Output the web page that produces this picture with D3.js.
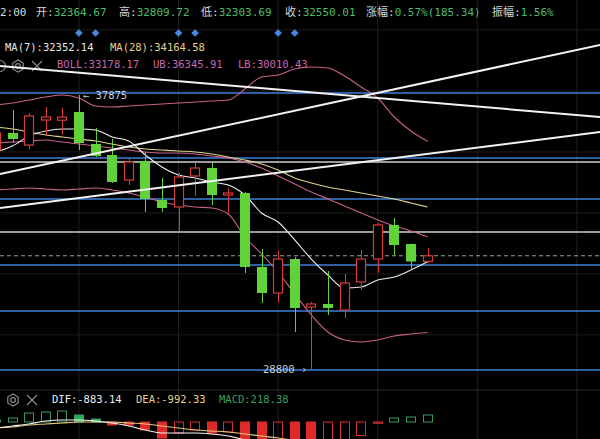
<!DOCTYPE html>
<html>
<head>
<meta charset="utf-8">
<script src="https://cdn.jsdelivr.net/npm/d3@7"></script>
<style>
  html, body { margin: 0; padding: 0; background: #000; overflow: hidden; }
  svg { display: block; }
  text { font-family: "DejaVu Sans Mono", "Noto Sans CJK SC", monospace; }
</style>
</head>
<body>
<svg id="chart" width="600" height="439"></svg>
<script>
// ---- candle data (index -1 is the partly hidden bar on the left edge) ----
const firstIndex = -1;
const opens  = [36053, 36616, 36219, 37047, 37040, 37312, 36252, 35888, 35060, 35689, 34397, 34166, 35192, 35457, 34563, 34629, 32178, 31317, 32443, 30854, 30953, 30754, 31682, 32443, 33570, 32940, 32364.67];
const highs  = [36700, 37378, 37279, 37478, 37445, 37875, 36782, 36418, 35789, 35987, 35126, 35292, 35623, 35623, 34795, 34662, 32775, 32708, 32510, 31019, 32046, 31947, 32742, 33636, 33801, 32950, 32809.72];
const lows   = [35950, 36285, 36087, 36550, 36560, 36053, 35822, 34961, 34894, 34000, 34000, 33371, 34530, 34232, 33967, 31980, 30986, 31019, 30026, 28800, 30589, 30489, 31417, 31980, 32576, 32079, 32303.69];
const closes = [36616, 36418, 37180, 37146, 37140, 36285, 35855, 34994, 35656, 34431, 34132, 35159, 35457, 34563, 34629, 32178, 31317, 32443, 30820, 30953, 30820, 31649, 32443, 33570, 32907, 32360, 32550.01];

// ---- indicator lines ----
const ma7     = [35987, 36186, 36517, 36683, 36749, 36749, 36716, 36484, 36352, 35888, 35490, 35225, 35126, 34994, 34894, 34563, 33967, 33669, 33073, 32443, 31913, 31483, 31516, 31748, 31847, 32079, 32352.14];
const ma28    = [36815, 36749, 36650, 36550, 36484, 36418, 36352, 36252, 36153, 36087, 36053, 36020, 35987, 35921, 35822, 35722, 35590, 35391, 35126, 34960, 34828, 34729, 34629, 34530, 34431, 34298, 34164.58];
const bollMid = [36285, 36318, 36352, 36385, 36318, 36252, 36186, 36120, 36053, 35987, 35954, 35954, 35921, 35855, 35789, 35656, 35457, 35192, 34927, 34662, 34431, 34199, 33967, 33735, 33536, 33371, 33178.17];
const bollUp  = [37544, 37610, 37709, 37809, 37875, 37776, 37511, 37478, 37511, 37544, 37577, 37610, 37643, 37676, 37709, 38074, 38471, 38537, 38736, 38802, 38769, 38504, 38140, 37776, 37146, 36683, 36345.91];
const bollLow = [34729, 34762, 34795, 34762, 34729, 34762, 34795, 34729, 34629, 34497, 34331, 34232, 34166, 34132, 33934, 33172, 32609, 32013, 31284, 30589, 30026, 29761, 29694, 29761, 29893, 29959, 30010.43];

// ---- MACD panel ----
const macdHist = [60, 125, 280, 312, 343, 218, 94, -94, -100, -250, -500, -343, -250, -343, -312, -600, -700, -650, -750, -850, -800, -700, -420, -40, 125, 156, 218.38];
const dif      = [-187, -125, -62, 31, 62, 62, 31, -31, -125, -250, -343, -343, -343, -374, -437, -562, -718, -850, -1000, -1150, -1250, -1300, -1280, -1200, -1080, -980, -883.14];
const dea      = [-187, -156, -94, -62, -31, 0, 0, 0, -31, -62, -125, -187, -250, -281, -312, -374, -437, -500, -580, -680, -780, -870, -940, -990, -1020, -1020, -992.33];

// ---- drawings on the chart ----
const blueLevels = [37941, 35788, 34431, 32245, 30721, 28767];
const grayLevels = [35656, 33338];
const trendLines = [
  { from: [-0.75, 38835], to: [35.4, 37146] },
  { from: [-0.75, 35258], to: [35.4, 39531] },
  { from: [-0.75, 34132], to: [35.4, 36649] }
];
const markerIndex = [4, 5, 10, 11, 16, 17];
const gridIndex = [4, 10, 16, 22, 28, 34];
const gridPrices = [40030, 38010, 35990, 33970, 31950, 29930];

// ---- header texts ----
const headerTime = "2:00";
const headerItems = [
  { label: "开:", value: "32364.67" },
  { label: "高:", value: "32809.72" },
  { label: "低:", value: "32303.69" },
  { label: "收:", value: "32550.01" },
  { label: "涨幅:", value: "0.57%(185.34)" },
  { label: "振幅:", value: "1.56%" }
];

const W = 600, H = 439;
const svg = d3.select("#chart");
svg.append("rect").attr("width", W).attr("height", H).attr("fill", "#000");

const x = d3.scaleLinear().domain([0, 25]).range([12.5, 427.5]);
const y = d3.scaleLinear().domain([28800, 37875]).range([369, 95]);
const ym = d3.scaleLinear().domain([0, 218.38]).range([422, 415]);
const idx = opens.map((_, k) => k + firstIndex);
const bodyW = 10;

// grid
const grid = svg.append("g");
grid.selectAll("line.v").data(gridIndex).join("line")
  .attr("x1", d => x(d)).attr("x2", d => x(d))
  .attr("y1", 0).attr("y2", H)
  .attr("stroke", "#1f1f1f").attr("stroke-width", 1);
grid.selectAll("line.h").data(gridPrices).join("line")
  .attr("x1", 0).attr("x2", W)
  .attr("y1", d => y(d)).attr("y2", d => y(d))
  .attr("stroke", "#1c1c1c").attr("stroke-width", 1);
grid.append("line").attr("x1", 0).attr("x2", W).attr("y1", 390).attr("y2", 390)
  .attr("stroke", "#2a2a2a").attr("stroke-width", 1);

// header row
const head = svg.append("g").attr("font-size", 11);
head.append("text").attr("x", 0).attr("y", 16).attr("fill", "#d8d8d8").text(headerTime);
const headX = [36, 119, 201, 285, 366, 492];
headerItems.forEach((h, k) => {
  const t = head.append("text").attr("x", headX[k]).attr("y", 16);
  t.append("tspan").attr("fill", "#d8d8d8").text(h.label);
  t.append("tspan").attr("fill", "#4cbb6c").text(h.value);
});

// event markers
svg.append("g").selectAll("path").data(markerIndex).join("path")
  .attr("d", d3.symbol().type(d3.symbolSquare).size(30))
  .attr("transform", d => `translate(${x(d)},33) rotate(45)`)
  .attr("fill", "#4a86e0");

// MA legend
const maLeg = svg.append("g").attr("font-size", 10.5);
maLeg.append("text").attr("x", 5).attr("y", 51).attr("fill", "#e6e6e6").text("MA(7):" + ma7[ma7.length - 1].toFixed(2));
maLeg.append("text").attr("x", 110).attr("y", 51).attr("fill", "#e6d28a").text("MA(28):" + ma28[ma28.length - 1].toFixed(2));

// gear / close icons
function gearIcon(g, cx, cy) {
  const hex = d3.range(6).map(k => [cx + 6 * Math.cos(Math.PI / 3 * k + Math.PI / 6), cy + 6 * Math.sin(Math.PI / 3 * k + Math.PI / 6)]);
  g.append("polygon").attr("points", hex.map(p => p.join(",")).join(" "))
    .attr("fill", "none").attr("stroke", "#8a8a8a").attr("stroke-width", 1.2);
  g.append("circle").attr("cx", cx).attr("cy", cy).attr("r", 2.4)
    .attr("fill", "none").attr("stroke", "#8a8a8a").attr("stroke-width", 1.2);
}
function closeIcon(g, cx, cy) {
  g.append("path").attr("d", `M${cx - 5},${cy - 5}L${cx + 5},${cy + 5}M${cx + 5},${cy - 5}L${cx - 5},${cy + 5}`)
    .attr("stroke", "#8a8a8a").attr("stroke-width", 1.2);
}
const icons = svg.append("g");
icons.append("circle").attr("cx", 0).attr("cy", 66).attr("r", 5.5)
  .attr("fill", "none").attr("stroke", "#8a8a8a").attr("stroke-width", 1.2);
gearIcon(icons, 18, 66);
closeIcon(icons, 37, 66);
gearIcon(icons, 13, 400);
closeIcon(icons, 32, 400);

// BOLL legend
const bollLeg = svg.append("g").attr("font-size", 10.5).attr("fill", "#c865b0");
bollLeg.append("text").attr("x", 57).attr("y", 68).text("BOLL:" + bollMid[bollMid.length - 1].toFixed(2));
bollLeg.append("text").attr("x", 153).attr("y", 68).text("UB:" + bollUp[bollUp.length - 1].toFixed(2));
bollLeg.append("text").attr("x", 238).attr("y", 68).text("LB:" + bollLow[bollLow.length - 1].toFixed(2));

// main panel clip
svg.append("clipPath").attr("id", "mainClip").append("rect")
  .attr("x", 0).attr("y", 0).attr("width", W).attr("height", 390);
const main = svg.append("g").attr("clip-path", "url(#mainClip)");

// horizontal levels
main.selectAll("line.blue").data(blueLevels).join("line")
  .attr("x1", 0).attr("x2", W).attr("y1", d => y(d)).attr("y2", d => y(d))
  .attr("stroke", "#3e7fd6").attr("stroke-width", 1.6);
main.selectAll("line.gray").data(grayLevels).join("line")
  .attr("x1", 0).attr("x2", W).attr("y1", d => y(d)).attr("y2", d => y(d))
  .attr("stroke", "#cfcfcf").attr("stroke-width", 1.6);

// last price line
const lastClose = closes[closes.length - 1];
main.append("line").attr("x1", 0).attr("x2", W)
  .attr("y1", y(lastClose)).attr("y2", y(lastClose))
  .attr("stroke", "#9aa88a").attr("stroke-width", 1).attr("stroke-dasharray", "4,3");

// indicator lines
const lineGen = d3.line().x((d, k) => x(idx[k])).y(d => y(d)).curve(d3.curveMonotoneX);
[[bollUp, "#c7608e"], [bollMid, "#c7608e"], [bollLow, "#c7608e"], [ma28, "#e0d38c"], [ma7, "#f0f0f0"]]
  .forEach(([s, c]) => {
    main.append("path").datum(s).attr("d", lineGen)
      .attr("fill", "none").attr("stroke", c).attr("stroke-width", 1.1);
  });

// candles
const up = k => closes[k] >= opens[k];
const cg = main.append("g");
const kk = d3.range(opens.length);
cg.selectAll("line.wick").data(kk).join("line")
  .attr("x1", k => Math.round(x(idx[k])) + 0.5).attr("x2", k => Math.round(x(idx[k])) + 0.5)
  .attr("y1", k => y(highs[k])).attr("y2", k => y(lows[k]))
  .attr("stroke", k => up(k) ? "#d93a3a" : "#5fd13a").attr("stroke-width", 1);
cg.selectAll("rect.body").data(kk).join("rect")
  .attr("x", k => Math.round(x(idx[k])) - bodyW / 2 + 0.5 + (up(k) ? 0.5 : 0) - 0.5)
  .attr("y", k => y(Math.max(opens[k], closes[k])))
  .attr("width", k => up(k) ? bodyW - 1 : bodyW)
  .attr("height", k => Math.max(1.5, Math.abs(y(opens[k]) - y(closes[k]))))
  .attr("fill", k => up(k) ? "#000" : "#62d23a")
  .attr("stroke", k => up(k) ? "#d93a3a" : "none")
  .attr("stroke-width", 1.2);

// trend lines
main.selectAll("line.trend").data(trendLines).join("line")
  .attr("x1", d => x(d.from[0])).attr("y1", d => y(d.from[1]))
  .attr("x2", d => x(d.to[0])).attr("y2", d => y(d.to[1]))
  .attr("stroke", "#f2f2f2").attr("stroke-width", 2);

// extreme labels
const hiK = highs.indexOf(d3.max(highs));
const loK = lows.indexOf(d3.min(lows));
main.append("text").attr("x", x(idx[hiK]) + 4).attr("y", y(highs[hiK]) + 4)
  .attr("font-size", 10.5).attr("fill", "#c4cede").text("← " + d3.max(highs));
main.append("text").attr("x", x(idx[loK]) - 4).attr("y", y(lows[loK]) + 4)
  .attr("text-anchor", "end")
  .attr("font-size", 10.5).attr("fill", "#c4cede").text(d3.min(lows) + " ›");

// MACD legend
const macdLeg = svg.append("g").attr("font-size", 10.5);
macdLeg.append("text").attr("x", 52).attr("y", 403).attr("fill", "#ececec").text("DIF:" + dif[dif.length - 1].toFixed(2));
macdLeg.append("text").attr("x", 136).attr("y", 403).attr("fill", "#e6d28a").text("DEA:" + dea[dea.length - 1].toFixed(2));
macdLeg.append("text").attr("x", 219).attr("y", 403).attr("fill", "#3d9d5e").text("MACD:" + macdHist[macdHist.length - 1].toFixed(2));

// MACD histogram (hollow when the value rises, filled when it falls)
svg.append("clipPath").attr("id", "macdClip").append("rect")
  .attr("x", 0).attr("y", 406).attr("width", W).attr("height", H - 406);
const mg = svg.append("g").attr("clip-path", "url(#macdClip)");
const rising = k => k === 0 || macdHist[k] >= macdHist[k - 1];
mg.selectAll("rect.hist").data(kk).join("rect")
  .attr("x", k => Math.round(x(idx[k])) - bodyW / 2 + 0.5)
  .attr("y", k => Math.min(ym(macdHist[k]), ym(0)))
  .attr("width", bodyW - 1)
  .attr("height", k => Math.max(1, Math.abs(ym(macdHist[k]) - ym(0))))
  .attr("fill", k => rising(k) ? "none" : (macdHist[k] >= 0 ? "#27b05a" : "#e02a2a"))
  .attr("stroke", k => macdHist[k] >= 0 ? "#3a9a5c" : "#d63030")
  .attr("stroke-width", 1);
const mLine = d3.line().x((d, k) => x(idx[k])).y(d => ym(d)).curve(d3.curveMonotoneX);
mg.append("path").datum(dea).attr("d", mLine).attr("fill", "none").attr("stroke", "#e8c47a").attr("stroke-width", 1.1);
mg.append("path").datum(dif).attr("d", mLine).attr("fill", "none").attr("stroke", "#f4f4f4").attr("stroke-width", 1.1);
</script>
</body>
</html>
